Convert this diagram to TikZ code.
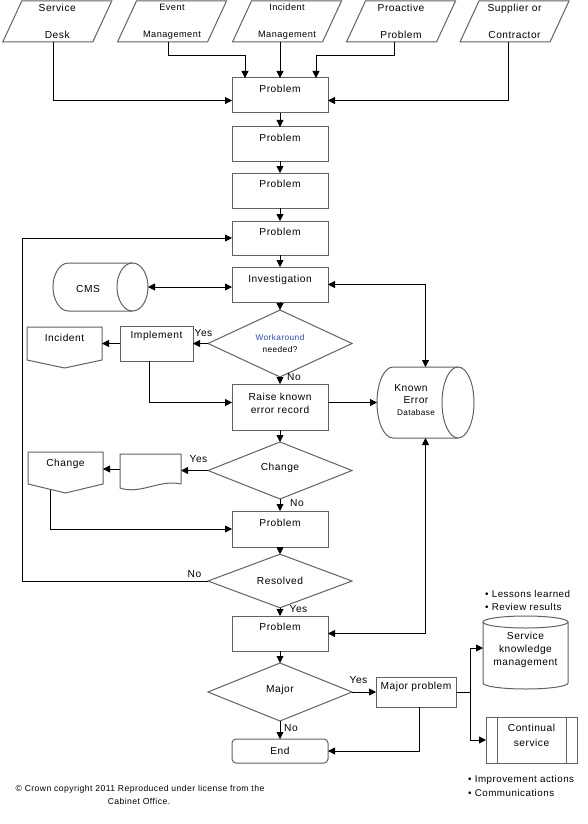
\documentclass[tikz,border=0pt]{standalone}
\usepackage{fontspec}
\setmainfont{Liberation Sans}[LetterSpace=5]
\usetikzlibrary{shapes.geometric,arrows.meta,calc}
\definecolor{wkblue}{RGB}{40,70,200}
\newcommand\fmain{\fontsize{10.2}{12}\selectfont}
\newcommand\fbig{\fontsize{10.2}{27}\selectfont}
\newcommand\fmid{\fontsize{9.2}{27}\selectfont}
\newcommand\fraise{\fontsize{10.2}{13}\selectfont}
\newcommand\fwk{\fontsize{8.3}{12}\selectfont}
\newcommand\fbul{\fontsize{9.8}{13}\selectfont}
\newcommand\fcopy{\fontsize{8.6}{10}\selectfont}
\newcommand\paraout[1]{\draw[ln] ($(#1.south west)+(-9.5,0)$) -- ($(#1.north west)+(9.5,0)$) -- ($(#1.north east)+(9.5,0)$) -- ($(#1.south east)+(-9.5,0)$) -- cycle;}
\begin{document}
\begin{tikzpicture}[x=1pt,y=-1pt,
  ln/.style={line width=1pt, draw=black!62},
  box/.style={ln, rectangle, inner sep=0pt, outer sep=0pt, minimum width=96pt, font=\fmain},
  txtpos/.style 2 args={text height=#1pt, text depth=#2pt},
  dia/.style={ln, diamond, inner sep=0pt, outer sep=0pt, minimum width=144pt, minimum height=#1pt, font=\fmain, align=center},
  arr/.style={line width=0.8pt, -{Triangle[length=7pt,width=7pt]}},
  darr/.style={line width=0.8pt, {Triangle[length=7pt,width=7pt]}-{Triangle[length=7pt,width=7pt]}},
  lbl/.style={font=\fmain, inner sep=0pt},
  para/.style={inner sep=0pt, outer sep=0pt, minimum width=90pt, minimum height=41pt, align=center},
  shp/.style={inner sep=0pt, outer sep=0pt, font=\fmain},
]
\useasboundingbox (0,0) rectangle (588,824);

% top inputs
\node[para, font=\fbig] (sd) at (57.25,21.5) {Service\\Desk};
\node[para, font=\fmid] (em) at (172,21.5) {Event\\Management};
\node[para, font=\fmid] (im) at (287,21.5) {Incident\\Management};
\node[para, font=\fbig] (pp) at (401,21.5) {Proactive\\Problem};
\node[para, font=\fbig] (sc) at (514.5,21.5) {Supplier or\\Contractor};
\foreach \n in {sd,em,im,pp,sc} {\paraout{\n}}

% main column
\node[box, minimum height=35pt, txtpos={14.6}{20.4}] (p1) at (280,95.5) {Problem};
\node[box, minimum height=34pt, txtpos={14.6}{19.4}] (p2) at (280,144) {Problem};
\node[box, minimum height=35pt, txtpos={14.6}{20.4}] (p3) at (280,190.5) {Problem};
\node[box, minimum height=34pt, txtpos={14.6}{19.4}] (p4) at (280,238) {Problem};
\node[box, minimum height=35pt, txtpos={15.6}{19.4}] (inv) at (280,284.5) {Investigation};
\node[dia=57, font=\fwk] (wk) at (280,343.5) {\textcolor{wkblue}{Workaround}\\needed?};
\node[box, minimum height=46pt, align=center, font=\fraise, txtpos={29.7}{16.3}] (raise) at (280,407) {Raise known\\error record};
\node[dia=57, txtpos={5}{5}] (chg) at (280,470.5) {Change};
\node[box, minimum height=36pt, txtpos={15.6}{20.4}] (pc) at (280,529) {Problem};
\node[dia=46] (res) at (280,581) {Resolved};
\node[box, minimum height=35pt, txtpos={14.6}{20.4}] (p5) at (280,633.5) {Problem};
\node[dia=58, txtpos={5}{5}] (maj) at (280,692) {Major};
\node[box, minimum height=24pt, rounded corners=4pt] (endn) at (280,751) {End};

% left side
\node[box, minimum width=73pt, minimum height=35pt, txtpos={12.6}{22.4}] (impl) at (156.5,343.5) {Implement};
\node[shp, minimum width=75pt, minimum height=33pt, txtpos={14.6}{18.4}] (inc) at (64.5,343.5) {Incident};
\draw[ln] (inc.south west) -- (inc.north west) -- (inc.north east) -- (inc.south east) -- ($(inc.south)+(0,8)$) -- cycle;
\node[shp, minimum width=61pt, minimum height=30pt] (doc) at (150.5,469) {};
\draw[ln] (doc.south east) -- (doc.north east) -- (doc.north west) -- ($(doc.south west)+(0,4)$) .. controls ($(doc.south west)+(20,11)$) and ($(doc.south east)+(-21,-5)$) .. (doc.south east);
\node[shp, minimum width=75pt, minimum height=32pt, txtpos={14.6}{17.4}] (chp) at (65.5,468) {Change};
\draw[ln] (chp.south west) -- (chp.north west) -- (chp.north east) -- (chp.south east) -- ($(chp.south)+(0,9)$) -- cycle;

% CMS
\node[shp, minimum width=95pt, minimum height=48pt] (cms) at (100.5,287) {};
\draw[ln] (132.5,263) -- (68.5,263) arc[start angle=270, end angle=90, x radius=15.5, y radius=24] -- (132.5,311);
\draw[ln] (132.5,287) ellipse [x radius=15.5, y radius=24];
\node[lbl] (cmst) at (88,289) {CMS};

% Known error database
\node[shp, minimum width=97pt, minimum height=71pt] (ked) at (425.5,402.5) {};
\draw[ln] (458,367) -- (393,367) arc[start angle=270, end angle=90, x radius=16, y radius=35.5] -- (458,438);
\draw[ln] (458,402.5) ellipse [x radius=16, y radius=35.5];
\node[lbl] (kt1) at (411,388) {Known};
\node[lbl] (kt2) at (416,400) {Error};
\node[lbl, font=\fontsize{8.2}{10}\selectfont] (kt3) at (416,413) {Database};

% right bottom
\node[box, minimum width=80pt, minimum height=30pt, txtpos={12.6}{17.4}] (mp) at (416,692) {Major problem};
\node[shp, minimum width=85pt, minimum height=73pt] (skm) at (525.5,652.5) {};
\draw[ln] (568,622) -- (568,683) arc[start angle=0, end angle=180, x radius=42.5, y radius=6] -- (483,622);
\draw[ln] (525.5,622) ellipse [x radius=42.5, y radius=6];
\node[lbl, align=center, font=\fraise] (skmt) at (525.5,650) {Service\\knowledge\\management};
\node[box, minimum width=91pt, minimum height=46pt] (cs) at (531.5,740) {};
\draw[ln] ($(cs.north west)+(11,0)$) -- ($(cs.south west)+(11,0)$) ($(cs.north east)+(-11,0)$) -- ($(cs.south east)+(-11,0)$);
\node[lbl, align=center, font=\fontsize{10.2}{15}\selectfont] (cst) at (531.5,735.5) {Continual\\service};

\node[lbl, anchor=west, font=\fbul] (b1) at (485,594) {• Lessons learned};
\node[lbl, anchor=west, font=\fbul] (b2) at (485,607) {• Review results};
\node[lbl, anchor=west, font=\fbul] (b3) at (468,780) {• Improvement actions};
\node[lbl, anchor=west, font=\fbul] (b4) at (468,793) {• Communications};

% connectors top
\draw[arr] ($(sd.south)+(-4,0)$) |- ($(p1.west)+(0,5)$);
\draw[arr] ($(em.south)+(-4,0)$) -- ++(0,13) -| ($(p1.north)+(-35,0)$);
\draw[arr] (im.south -| p1.north) -- (p1.north);
\draw[arr] ($(pp.south)+(-7,0)$) -- ++(0,13) -| ($(p1.north)+(36,0)$);
\draw[arr] ($(sc.south)+(-6.5,0)$) |- ($(p1.east)+(0,5)$);

\foreach \a/\b in {p1/p2,p2/p3,p3/p4,p4/inv,inv/wk,wk/raise,raise/chg,chg/pc,pc/res,res/p5,p5/maj,maj/endn}
  {\draw[arr] (\a.south) -- (\b.north);}

\draw[darr] (cms.east) -- (cms.east -| inv.west);
\draw[darr] (inv.east) -| (ked.north);
\draw[arr] (wk.west) -- (impl.east);
\draw[arr] (impl.west) -- (inc.east);
\draw[arr] ($(impl.south)+(-7.5,0)$) |- (raise.west |- ked.west);
\draw[arr] (ked.west -| raise.east) -- (ked.west);
\draw[arr] (chg.west) -- (chg.west -| doc.east);
\draw[arr] (doc.west) -- (doc.west -| chp.east);
\coordinate (chpout) at (50,490);
\draw[arr] (chpout) |- (pc.west);
\coordinate (lp) at (22,581);
\draw[arr] (res.west) -- (lp) |- (p4.west);
\draw[darr] (ked.south) |- (p5.east);
\draw[arr] (maj.east) -- (mp.west);
\draw[arr] ($(mp.south)+(3,0)$) |- (endn.east);
\coordinate (br) at (470,692);
\coordinate (skmin) at (483,648);
\draw[line width=0.8pt] (mp.east) -- (br);
\draw[arr] (br) |- (skmin);
\draw[arr] (br) |- (cs.west);

% labels
\node[lbl] (ly1) at (203.5,333) {Yes};
\node[lbl] (ln1) at (294,377) {No};
\node[lbl] (ly2) at (198.5,459) {Yes};
\node[lbl] (ln2) at (297,503) {No};
\node[lbl] (ln3) at (194.5,574) {No};
\node[lbl] (ly3) at (298.5,609) {Yes};
\node[lbl] (ly4) at (358.5,680) {Yes};
\node[lbl] (ln4) at (291,728) {No};

\node[lbl, font=\fcopy] (cp1) at (140,789) {© Crown copyright 2011 Reproduced under license from the};
\node[lbl, font=\fcopy] (cp2) at (139,801) {Cabinet Office.};
\end{tikzpicture}
\end{document}
